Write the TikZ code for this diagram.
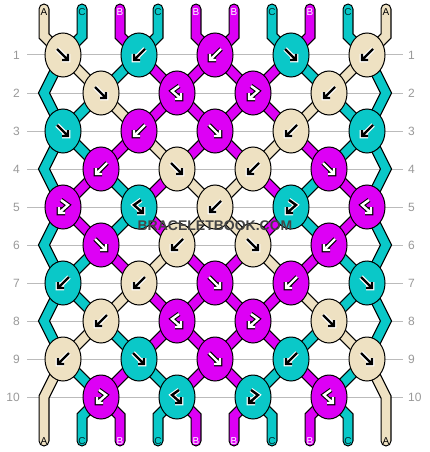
\documentclass[tikz,border=0pt]{standalone}
\usepackage{fontspec}
\setmainfont{Liberation Sans}
\usetikzlibrary{shapes.geometric}
\pgfdeclarelayer{strands}
\pgfsetlayers{strands,main}
\definecolor{tanA}{HTML}{EEE1C2}
\definecolor{tealC}{HTML}{0AC8C8}
\definecolor{magB}{HTML}{DD00F5}
\definecolor{rowgray}{HTML}{999999}
\definecolor{gridgray}{HTML}{BBBBBB}
\definecolor{brandgray}{HTML}{444444}
\tikzset{
  ink-tanA/.style={arrowfg/.style={draw=black}, arrowbg/.style={draw=white}},
  ink-tealC/.style={arrowfg/.style={draw=black}, arrowbg/.style={draw=white}},
  ink-magB/.style={arrowfg/.style={draw=white}, arrowbg/.style={draw=black}},
  arrowink/.style={arrowfg, line width=2.4pt, line join=miter,
    preaction={arrowbg, line width=4.6pt, line join=miter}},
  pics/F/.style={code={
    \draw[arrowink] (-6,-6) -- (5,5) (5,-1) -- (5,5) -- (-1,5);
  }},
  pics/B/.style={code={
    \draw[arrowink] (6,-6) -- (-5,5) (-5,-1) -- (-5,5) -- (1,5);
  }},
  pics/FB/.style={code={
    \draw[arrowink] (2,-7) -- (-5,-2) -- (4,6) (4,0) -- (4,6) -- (-2,6);
  }},
  pics/BF/.style={code={
    \draw[arrowink] (-2,-7) -- (5,-2) -- (-4,6) (-4,0) -- (-4,6) -- (2,6);
  }},
}

\begin{document}
\begin{tikzpicture}[x=1pt, y=-1pt,
    knot/.style={ellipse, draw, line width=1pt, minimum width=36pt,
      minimum height=44pt, inner sep=0pt},
    strand/.style={draw=#1, line width=8.6pt, line join=miter, line cap=round,
      preaction={draw=black, line width=11pt, line join=miter, line cap=round}},
    rowlabel/.style={text=rowgray, font=\fontsize{12}{14}\selectfont, inner sep=0pt},
    endlabel/.style={font=\fontsize{10}{12}\selectfont, inner sep=0pt},
    ]
  \useasboundingbox (0,0) rectangle (430,452);

  % knots, row by row
  \foreach \r/\row in {
      1/{tanA/F,tealC/B,magB/B,tealC/F,tanA/B},
      2/{tanA/F,magB/FB,magB/BF,tanA/B},
      3/{tealC/F,magB/B,magB/F,tanA/B,tealC/B},
      4/{magB/B,tanA/F,tanA/B,magB/F},
      5/{magB/BF,tealC/FB,tanA/B,tealC/BF,magB/FB},
      6/{magB/F,tanA/B,tanA/F,magB/B},
      7/{tealC/B,tanA/B,magB/F,magB/B,tealC/F},
      8/{tanA/B,magB/FB,magB/BF,tanA/F},
      9/{tanA/B,tealC/F,magB/F,tealC/B,tanA/F},
      10/{magB/BF,tealC/FB,tealC/BF,magB/FB}} {
    \pgfmathsetmacro\y{55+38*(\r-1)}
    \foreach \c/\t [count=\k] in \row {
      \pgfmathsetmacro\x{(isodd(\r) ? 63 : 101)+76*(\k-1)}
      \node[knot, fill=\c] (k-\r-\k) at (\x,\y) {};
      \pic[ink-\c] at (k-\r-\k) {\t};
    }
  }

  % where each thread position meets each row
  \foreach \r in {1,...,10} {
    \pgfmathsetmacro\y{55+38*(\r-1)}
    \foreach \p in {1,...,10} {
      \pgfmathtruncatemacro\k{isodd(\r) ? (\p+1)/2 : \p/2}
      \ifodd\r\relax
        \coordinate (p-\r-\p) at (k-\r-\k.center);
      \else
        \ifnum\k=0\relax \coordinate (p-\r-\p) at (44,\y);
        \else\ifnum\k=5\relax \coordinate (p-\r-\p) at (386,\y);
        \else \coordinate (p-\r-\p) at (k-\r-\k.center);
        \fi\fi
      \fi
    }
  }

  % thread ends and their letters
  \foreach \p/\l/\ink in {1/A/black, 2/C/black!80!tealC, 3/B/white,
      4/C/black!80!tealC, 5/B/white, 6/B/white, 7/C/black!80!tealC,
      8/B/white, 9/C/black!80!tealC, 10/A/black} {
    \pgfmathsetmacro\x{44+38*(\p-1)}
    \coordinate (t-\p) at (\x,9);
    \coordinate (tb-\p) at (\x,36);
    \coordinate (bb-\p) at (\x,416);
    \coordinate (b-\p) at (\x,441);
    \node[endlabel, text=\ink] (lt-\p) at (\x,12) {\l};
    \node[endlabel, text=\ink] (lb-\p) at (\x,441) {\l};
  }

  % row numbers
  \foreach \r in {1,...,10} {
    \pgfmathsetmacro\y{55+38*(\r-1)}
    \node[rowlabel, anchor=east] (rl-\r) at (20,\y) {\r};
    \node[rowlabel, anchor=west] (rr-\r) at (408,\y) {\r};
  }

  \begin{pgfonlayer}{strands}
    \fill[white] (0,0) rectangle (430,452);
    \foreach \r in {1,...,10}
      \draw[gridgray, line width=1pt] ([xshift=7pt]rl-\r.east) -- ([xshift=-5pt]rr-\r.west);
    % each thread: start, position before every row, end
    \foreach \s/\c/\f/\lst in {
        1/tanA/10/{1,2,3,4,5,6,7,8,9,10},
        2/tealC/2/{2,1,1,2,3,3,2,1,1,2},
        3/magB/3/{3,4,4,3,2,2,3,4,4,3},
        4/tealC/4/{4,3,2,1,1,1,1,2,3,4},
        5/magB/5/{5,6,6,5,4,4,5,6,6,5},
        6/magB/6/{6,5,5,6,7,7,6,5,5,6},
        7/tealC/7/{7,8,9,10,10,10,10,9,8,7},
        8/magB/8/{8,7,7,8,9,9,8,7,7,8},
        9/tealC/9/{9,10,10,9,8,8,9,10,10,9},
        10/tanA/1/{10,9,8,7,6,5,4,3,2,1}} {
      \draw[strand=\c] (t-\s) -- (tb-\s)
        \foreach \p [count=\r] in \lst {-- (p-\r-\p)} -- (bb-\f) -- (b-\f);
    }
  \end{pgfonlayer}

  % watermark
  \node[font=\bfseries\fontsize{14}{16}\selectfont, text=brandgray]
    (brand) at (215,226) {BRACELETBOOK.COM};
\end{tikzpicture}
\end{document}
